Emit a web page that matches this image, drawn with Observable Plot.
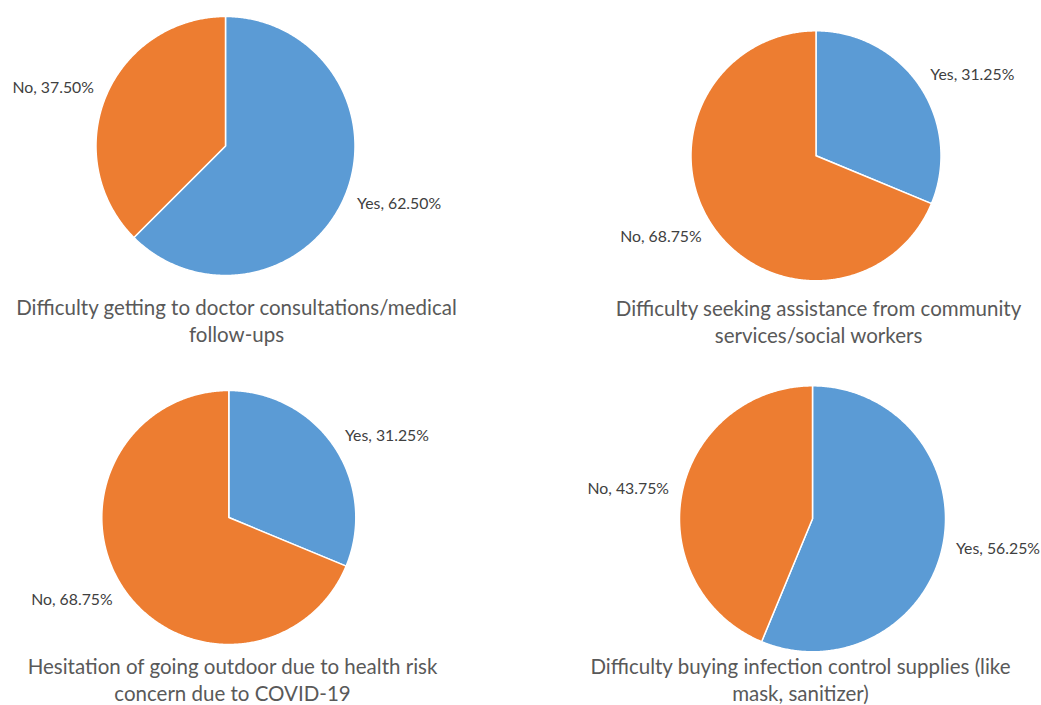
<!DOCTYPE html>
<html>
<head>
<meta charset="utf-8">
<script src="https://cdn.jsdelivr.net/npm/d3@7"></script>
<script src="https://cdn.jsdelivr.net/npm/@observablehq/plot@0.6"></script>
<style>
  html, body { margin: 0; padding: 0; background: #fff; }
  #chart svg { display: block; }
</style>
</head>
<body>
<div id="chart"></div>
<script>
// ---- data ----
const titles = [
  "Difficulty getting to doctor consultations/medical\nfollow-ups",
  "Difficulty seeking assistance from community\nservices/social workers",
  "Hesitation of going outdoor due to health risk\nconcern due to COVID-19",
  "Difficulty buying infection control supplies (like\nmask, sanitizer)"
];
const answers = ["Yes", "No"];
const yesPct = [62.50, 31.25, 31.25, 56.25];
const noPct  = [37.50, 68.75, 68.75, 43.75];

// ---- layout (pixels) ----
const layout = [
  {cx: 225,   cy: 145.5, r: 129.5, tx: 236, ty: 319.5},
  {cx: 815.5, cy: 155.3, r: 125,   tx: 818, ty: 320.3},
  {cx: 228.3, cy: 517,   r: 127,   tx: 232, ty: 678},
  {cx: 812,   cy: 518.3, r: 133,   tx: 800, ty: 678}
];
const colors = ["#5B9BD5", "#ED7D31"];
const W = 1041, H = 705;

// ---- build slices via d3.pie ----
const pie = d3.pie().sort(null).value(d => d.value);
const slicePts = [];
const labels = [];
titles.forEach((t, i) => {
  const L = layout[i];
  const rows = [
    {answer: answers[0], value: yesPct[i]},
    {answer: answers[1], value: noPct[i]}
  ];
  pie(rows).forEach(a => {
    const key = i + "-" + a.data.answer;
    slicePts.push({key, answer: a.data.answer, x: L.cx, y: L.cy});
    const n = Math.max(2, Math.ceil((a.endAngle - a.startAngle) / (Math.PI / 360)));
    for (let k = 0; k <= n; k++) {
      const ang = a.startAngle + (a.endAngle - a.startAngle) * k / n;
      slicePts.push({key, answer: a.data.answer,
        x: L.cx + L.r * Math.sin(ang), y: L.cy - L.r * Math.cos(ang)});
    }
    slicePts.push({key, answer: a.data.answer, x: L.cx, y: L.cy});
    const mid = (a.startAngle + a.endAngle) / 2;
    const sx = Math.sin(mid), sy = -Math.cos(mid);
    labels.push({
      text: a.data.answer + ", " + a.data.value.toFixed(2) + "%",
      x: L.cx + sx * L.r * 1.1,
      y: L.cy + sy * (L.r * 1.1 + 8),
      side: sx >= 0 ? "right" : "left"
    });
  });
});
const titleRows = titles.map((t, i) => ({text: t, x: layout[i].tx, y: layout[i].ty}));

const FONT = "Lato, 'Open Sans', sans-serif";

const chart = Plot.plot({
  width: W,
  height: H,
  margin: 0,
  style: {fontFamily: FONT, background: "#fff"},
  x: {domain: [0, W], range: [0, W], axis: null},
  y: {domain: [0, H], range: [0, H], axis: null},
  color: {domain: answers, range: colors},
  marks: [
    Plot.line(slicePts, {
      x: "x", y: "y", z: "key", fill: "answer",
      stroke: "#fff", strokeWidth: 1.5, strokeLinejoin: "round"
    }),
    Plot.text(labels.filter(d => d.side === "right"), {
      x: "x", y: "y", text: "text", textAnchor: "start",
      fontSize: 15.8, fill: "#404040"
    }),
    Plot.text(labels.filter(d => d.side === "left"), {
      x: "x", y: "y", text: "text", textAnchor: "end",
      fontSize: 15.8, fill: "#404040"
    }),
    Plot.text(titleRows, {
      x: "x", y: "y", text: "text", textAnchor: "middle",
      lineAnchor: "middle", lineHeight: 1.31,
      fontSize: 20.5, fill: "#595959"
    })
  ]
});
document.getElementById("chart").appendChild(chart);
</script>
</body>
</html>
